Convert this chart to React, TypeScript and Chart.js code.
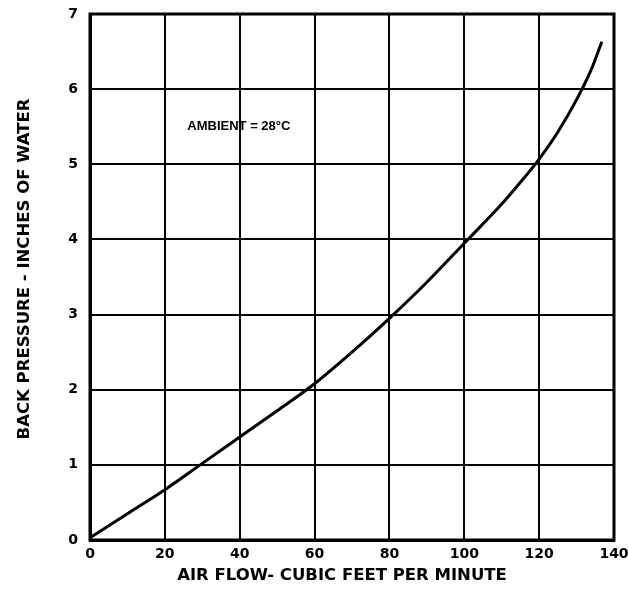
import React, { useEffect, useRef } from "react";
import { Chart, registerables } from "chart.js";

Chart.register(...registerables);

const airFlow = [0, 10, 20, 30, 40, 50, 60, 70, 80, 90, 100, 110, 115, 120, 125, 130, 134, 136.75];
const backPressure = [0.03, 0.35, 0.67, 1.02, 1.37, 1.72, 2.08, 2.5, 2.95, 3.43, 3.95, 4.47, 4.76, 5.07, 5.43, 5.86, 6.27, 6.63];
const xTicks = [0, 20, 40, 60, 80, 100, 120, 140];
const yTicks = [0, 1, 2, 3, 4, 5, 6, 7];
const annotationText = "AMBIENT = 28°C";
const annotationPos = { x: 26, y: 5.5 };
const xTitle = "AIR FLOW- CUBIC FEET PER MINUTE";
const yTitle = "BACK PRESSURE - INCHES OF WATER";

const FONT = "'Liberation Sans', Arial, sans-serif";
const WIDE = "'DejaVu Sans', sans-serif";

const annotationPlugin = {
  id: "ambientNote",
  afterDatasetsDraw(chart: any) {
    const { ctx, scales } = chart;
    const px = scales.x.getPixelForValue(annotationPos.x);
    const py = scales.y.getPixelForValue(annotationPos.y);
    ctx.save();
    ctx.fillStyle = "#000";
    ctx.font = `bold 13px ${FONT}`;
    ctx.textAlign = "left";
    ctx.textBaseline = "middle";
    ctx.fillText(annotationText, px, py);
    ctx.restore();
  },
};

const titlesPlugin = {
  id: "axisTitles",
  afterDraw(chart: any) {
    const { ctx, chartArea: a } = chart;
    ctx.save();
    ctx.fillStyle = "#000";
    ctx.font = `bold 16.5px ${WIDE}`;
    ctx.textAlign = "center";
    ctx.textBaseline = "middle";
    ctx.fillText(xTitle, (a.left + a.right) / 2 - 10, a.bottom + 36);
    ctx.translate(25, (a.top + a.bottom) / 2 - 8);
    ctx.rotate(-Math.PI / 2);
    ctx.fillText(yTitle, 0, 0);
    ctx.restore();
  },
};

export default function App() {
  const ref = useRef<HTMLCanvasElement | null>(null);
  useEffect(() => {
    if (!ref.current) return;
    const chart = new Chart(ref.current, {
      type: "line",
      data: {
        datasets: [
          {
            data: airFlow.map((x, i) => ({ x, y: backPressure[i] })),
            borderColor: "#000",
            borderWidth: 3,
            pointRadius: 0,
            cubicInterpolationMode: "monotone",
            fill: false,
          },
        ],
      },
      options: {
        animation: false,
        responsive: false,
        maintainAspectRatio: false,
        layout: { padding: { top: 14, right: 14, left: 0, bottom: 0 } },
        plugins: { legend: { display: false }, tooltip: { enabled: false } },
        scales: {
          x: {
            type: "linear",
            min: 0,
            max: 140,
            afterBuildTicks: (s: any) => {
              s.ticks = xTicks.map((v) => ({ value: v }));
            },
            afterFit: (s: any) => {
              s.height = 51;
              s.paddingLeft = 0;
              s.paddingRight = 0;
            },
            grid: { color: "#000", lineWidth: 2, drawTicks: false },
            border: { color: "#000", width: 3 },
            ticks: {
              color: "#000",
              font: { family: WIDE, size: 14, weight: "bold" },
              padding: 6,
              maxRotation: 0,
            },
            title: { display: false },
          },
          y: {
            type: "linear",
            min: 0,
            max: 7,
            afterBuildTicks: (s: any) => {
              s.ticks = yTicks.map((v) => ({ value: v }));
            },
            afterFit: (s: any) => {
              s.width = 90;
              s.paddingTop = 0;
              s.paddingBottom = 0;
            },
            grid: { color: "#000", lineWidth: 2, drawTicks: false },
            border: { color: "#000", width: 3 },
            ticks: {
              color: "#000",
              font: { family: WIDE, size: 14, weight: "bold" },
              padding: 12,
            },
            title: { display: false },
          },
        },
      },
      plugins: [
        annotationPlugin,
        titlesPlugin,
        {
          id: "frame",
          afterDraw(chart: any) {
            const { ctx, chartArea: a } = chart;
            ctx.save();
            ctx.strokeStyle = "#000";
            ctx.lineWidth = 3;
            ctx.strokeRect(a.left, a.top, a.right - a.left, a.bottom - a.top);
            ctx.restore();
          },
        },
      ],
    } as any);
    return () => chart.destroy();
  }, []);
  return (
    <div style={{ position: "absolute", left: 0, top: 0, width: 628, height: 591, background: "#fff" }}>
      <canvas ref={ref} width={628} height={591} style={{ width: 628, height: 591 }} />
    </div>
  );
}
